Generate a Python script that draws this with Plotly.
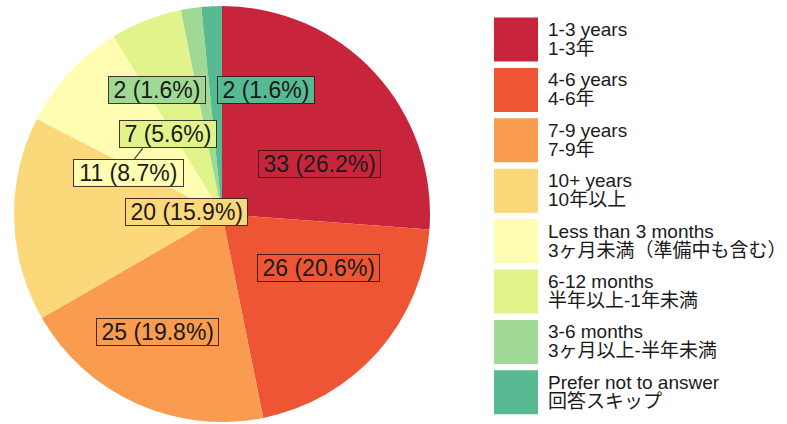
import plotly.graph_objects as go

# Survey answers: how long respondents have been doing it
categories_en = ["1-3 years", "4-6 years", "7-9 years", "10+ years",
                 "Less than 3 months", "6-12 months", "3-6 months",
                 "Prefer not to answer"]
categories_ja = ["1-3年", "4-6年", "7-9年", "10年以上",
                 "3ヶ月未満（準備中も含む）", "半年以上-1年未満",
                 "3ヶ月以上-半年未満", "回答スキップ"]
counts = [33, 26, 25, 20, 11, 7, 2, 2]

colors = ["#C8253D", "#EE5535", "#F99C50", "#FBD87A",
          "#FFFDB2", "#E1F48C", "#9FD994", "#57BA92"]

W, H = 787, 424
FONT = "Liberation Sans, Arial, Noto Sans CJK JP, sans-serif"

# label box centres (pixels) for each slice label
label_pos = [(319.5, 164), (318.5, 268), (157, 332), (186, 212),
             (128.3, 172.7), (167.5, 133.7), (156.5, 90), (266, 90)]


def px(x, y):
    return x / W, 1 - y / H


# approximate Arial advance widths (em) for label text
_cw = {" ": 0.278, "(": 0.333, ")": 0.333, ".": 0.278, "%": 0.889}


def text_w(s, size):
    return sum(_cw.get(c, 0.556) for c in s) * size


total = sum(counts)
fig = go.Figure()
fig.add_trace(go.Pie(
    labels=categories_en, values=counts, sort=False, direction="clockwise",
    rotation=0, marker=dict(colors=colors, line=dict(width=0)),
    textinfo="none", showlegend=False,
    domain=dict(x=[14 / W, 430 / W], y=[2 / H, 418 / H]),
))

LABEL_SIZE = 23
annotations = []
for v, col, (lx, ly) in zip(counts, colors, label_pos):
    txt = f"{v} ({v / total * 100:.1f}%)"
    x, y = px(lx, ly)
    annotations.append(dict(
        x=x, y=y, xref="paper", yref="paper", text=txt, showarrow=False,
        xanchor="center", yanchor="middle",
        font=dict(family=FONT, size=LABEL_SIZE, color="#1a1a1a"),
        bgcolor=col, bordercolor="rgba(40,20,20,0.85)", borderwidth=1,
        borderpad=0, width=text_w(txt, LABEL_SIZE) + 9,
    ))

# custom legend: large swatches with bilingual two-line captions
leg_x0, leg_top, sw, pitch = 494, 17.5, 44, 50.4
shapes = []
for i, (en, ja, col) in enumerate(zip(categories_en, categories_ja, colors)):
    top = leg_top + i * pitch
    x0, y0 = px(leg_x0, top + sw)
    x1, y1 = px(leg_x0 + sw, top)
    shapes.append(dict(type="rect", xref="paper", yref="paper",
                       x0=x0, y0=y0, x1=x1, y1=y1,
                       fillcolor=col, line=dict(width=0)))
    for line, dy in ((en, 12), (ja, 31)):
        tx, ty = px(546, top + dy)
        annotations.append(dict(
            x=tx, y=ty, xref="paper", yref="paper", text=line,
            showarrow=False, xanchor="left", yanchor="middle",
            font=dict(family=FONT, size=19, color="#1a1a1a"),
        ))

# short connector between the 6-12 months label and its wedge
lx0, ly0 = px(142.7, 148.3)
lx1, ly1 = px(134.3, 159)
shapes.append(dict(type="line", xref="paper", yref="paper",
                   x0=lx0, y0=ly0, x1=lx1, y1=ly1,
                   line=dict(color="#333333", width=1.2)))

fig.update_layout(
    width=W, height=H, autosize=False,
    margin=dict(l=0, r=0, t=0, b=0),
    paper_bgcolor="white", plot_bgcolor="white",
    annotations=annotations, shapes=shapes,
)

fig.write_html("out.html")
